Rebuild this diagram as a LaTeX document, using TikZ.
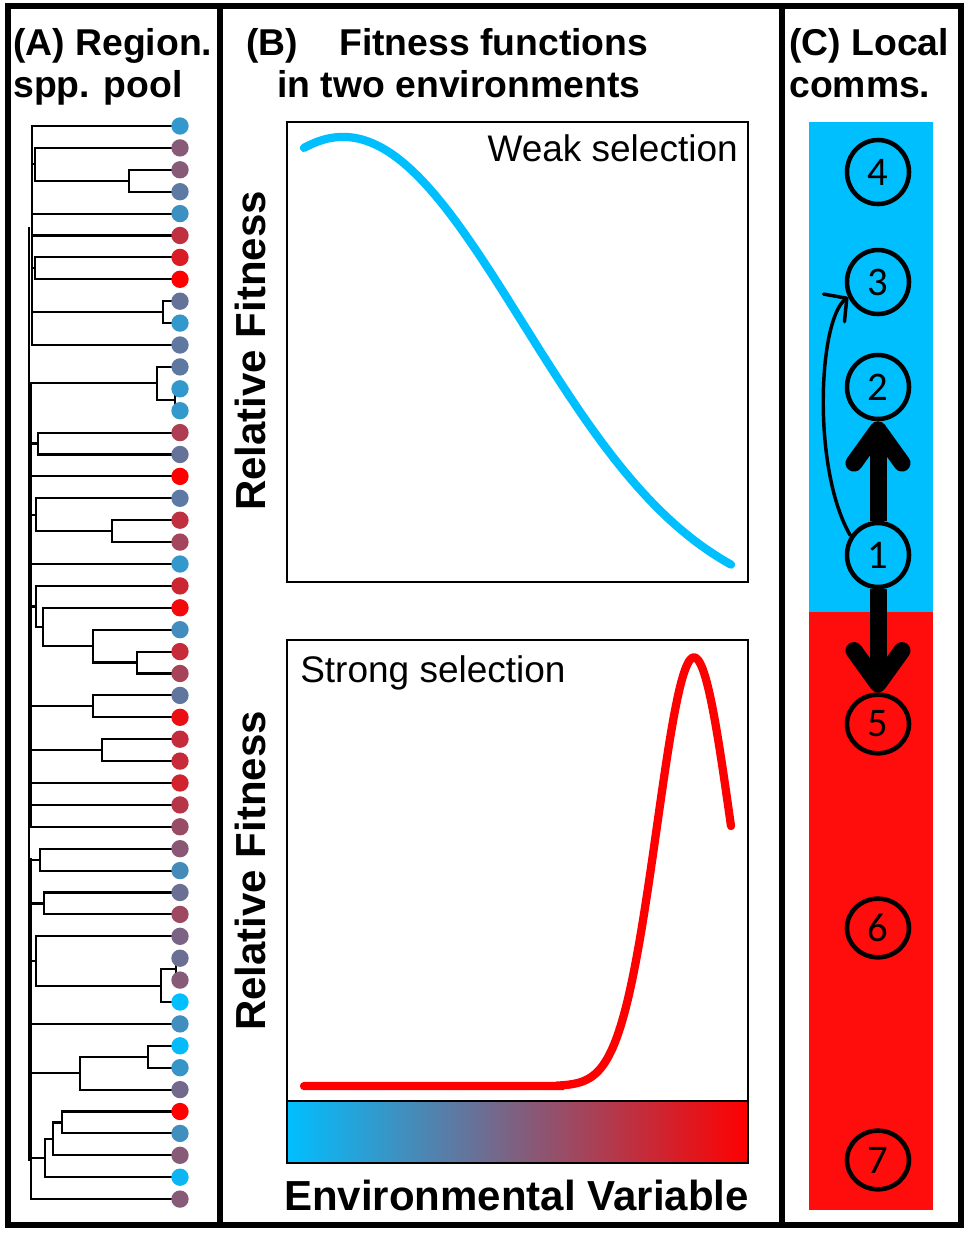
\documentclass[tikz,border=0pt]{standalone}
\usepackage{fontspec}
\setmainfont{Liberation Sans}
\newfontfamily\calibfont{Carlito}
\usetikzlibrary{arrows.meta,calc,shapes.geometric}
\definecolor{skyb}{RGB}{0,191,255}
\definecolor{rd}{RGB}{255,0,0}
\definecolor{panelred}{RGB}{255,13,13}
\newcommand\tipline[2]{\draw[treeline] (#1,{126+21.9*(#2-1)}) -- (180,{126+21.9*(#2-1)});}
\newcommand\vseg[3]{\draw[treeline] (#1,#2) -- (#1,#3);}
\newcommand\hseg[3]{\draw[treeline] (#1,#3) -- (#2,#3);}
\begin{document}
\begin{tikzpicture}[x=0.75pt,y=-0.75pt,
  treeline/.style={line width=1.6pt, line cap=rect},
  tipdot/.style={circle, inner sep=0pt, minimum size=13pt},
  frameline/.style={line width=4pt},
  boxline/.style={line width=1.5pt},
  title/.style={inner sep=0pt, font=\fontsize{28}{33}\selectfont\bfseries},
  axlab/.style={inner sep=0pt, font=\fontsize{31.5}{36}\selectfont\bfseries},
  sellab/.style={inner sep=0pt, font=\fontsize{27.75}{32}\selectfont},
  comm/.style={ellipse, draw, line width=3.4pt, inner sep=0pt, minimum width=46.5pt, minimum height=48pt, font=\calibfont\fontsize{30.5}{35}\selectfont},
  commred/.style={comm, minimum height=44pt},
  thickarr/.style={line width=12.75pt, -{Straight Barb[round, length=25pt, width=36pt]}},
  thinarr/.style={line width=2.6pt, -{Straight Barb[round, length=12pt, width=26pt]}},
  curveline/.style={line width=6.2pt, line cap=round}
]
\useasboundingbox (0,0) rectangle (970,1247);
\fill[white] (0,0) rectangle (970,1247);

% ---------------- Panel A: tree ----------------
% backbone
\vseg{31.7}{126}{345}
\vseg{29}{228}{1160}
\vseg{31}{383}{827}
\vseg{30.7}{859}{1199.1}
% tip branches
\tipline{31.7}{1}\tipline{35}{2}\tipline{129}{3}\tipline{129}{4}\tipline{31.7}{5}
\tipline{31.7}{6}\tipline{35}{7}\tipline{35}{8}\tipline{163}{9}\tipline{163}{10}
\tipline{31.7}{11}\tipline{157}{12}\tipline{175}{13}\tipline{175}{14}\tipline{38}{15}
\tipline{38}{16}\tipline{31}{17}\tipline{36}{18}\tipline{112}{19}\tipline{112}{20}
\tipline{31}{21}\tipline{36}{22}\tipline{43}{23}\tipline{93}{24}\tipline{137}{25}
\tipline{137}{26}\tipline{93}{27}\tipline{93}{28}\tipline{102}{29}\tipline{102}{30}
\tipline{31}{31}\tipline{31}{32}\tipline{31}{33}\tipline{40}{34}\tipline{40}{35}
\tipline{44}{36}\tipline{44}{37}\tipline{36}{38}\tipline{176}{39}\tipline{176}{40}
\tipline{161}{41}\tipline{30.7}{42}\tipline{148}{43}\tipline{148}{44}\tipline{80}{45}
\tipline{62}{46}\tipline{62}{47}\tipline{52.7}{48}\tipline{45}{49}\tipline{30.7}{50}
% internal nodes
\vseg{129}{169.8}{191.7}\hseg{35}{129}{180.75}
\vseg{35}{147.9}{180.75}\hseg{31.7}{35}{164.3}
\vseg{35}{257.4}{279.3}\hseg{31.7}{35}{268.35}
\vseg{163}{301.2}{323.1}\hseg{31.7}{163}{312.15}
\vseg{175}{388.8}{410.7}\hseg{157}{175}{399.75}
\vseg{157}{366.9}{399.75}\hseg{30}{157}{383.3}
\vseg{38}{432.6}{454.5}\hseg{31}{38}{443.55}
\vseg{112}{520.2}{542.1}\hseg{36}{112}{531.15}
\vseg{36}{498.3}{531.15}\hseg{31}{36}{514.7}
\vseg{137}{651.6}{673.5}\hseg{93}{137}{662.55}
\vseg{93}{629.7}{662.55}\hseg{43}{93}{646.1}
\vseg{43}{607.8}{646.1}\hseg{36}{43}{627}
\vseg{36}{585.9}{627}\hseg{31}{36}{606.5}
\vseg{93}{695.4}{717.3}\hseg{31}{93}{706.35}
\vseg{102}{739.2}{761.1}\hseg{31}{102}{750.15}
\vseg{40}{848.7}{870.6}\hseg{30.7}{40}{859.65}
\vseg{44}{892.5}{914.4}\hseg{30.7}{44}{903.45}
\vseg{176}{958.2}{980.1}\hseg{161}{176}{969.15}
\vseg{161}{969.15}{1002}\hseg{36}{161}{985.6}
\vseg{36}{936.3}{985.6}\hseg{30.7}{36}{961}
\vseg{148}{1045.8}{1067.7}\hseg{80}{148}{1056.75}
\vseg{80}{1056.75}{1089.6}\hseg{30.7}{80}{1073.2}
\vseg{62}{1111.5}{1133.4}\hseg{52.7}{62}{1122.45}
\vseg{52.7}{1122.45}{1155.3}\hseg{45}{52.7}{1138.9}
\vseg{45}{1138.9}{1177.2}\hseg{30.7}{45}{1158}
% tip dots
\foreach \t [count=\i] in {20,53,53,36,24,75,85,100,40,20,37,37,20,20,68,40,100,36,75,64,20,80,95,26,78,65,38,92,77,78,82,72,60,54,27,42,62,48,42,53,0,25,2,22,45,100,25,53,5,53}
  \node[tipdot, fill=rd!\t!skyb] (tip\i) at (180,{126+21.9*(\i-1)}) {};

% ---------------- Panel B ----------------
% top plot
\draw[curveline, skyb] plot[domain=304:731, samples=120] (\x, {611-474*exp(-0.5*((\x-343)/180)*((\x-343)/180))});
\draw[boxline] (287,122) rectangle (748,582);
\node[sellab, anchor=base east] (weak) at (738,161) {Weak selection};
\node[axlab, rotate=90] (rf1) at (250,351) {Relative Fitness};
% bottom plot
\shade[left color=skyb, right color=rd] (287,1101) rectangle (748,1163);
\draw[curveline, rd] (304,1086) -- (560,1086) -- plot[domain=560:731, samples=150] (\x, {1086-428.5*exp(-0.5*((\x-694)/37)*((\x-694)/37))});
\draw[boxline] (287,640) rectangle (748,1163);
\draw[boxline] (287,1101) -- (748,1101);
\node[sellab, anchor=base west] (strong) at (300,682) {Strong selection};
\node[axlab, rotate=90] (rf2) at (250,871) {Relative Fitness};
\node[axlab, anchor=base] (ev) at (516.5,1210) {Environmental Variable};

% ---------------- Panel C ----------------
\fill[skyb] (809,122) rectangle (933,612);
\fill[panelred] (809,612) rectangle (933,1210);
\node[comm] (c4) at (878,172) {4};
\node[comm] (c3) at (878,282) {3};
\node[comm] (c2) at (878,387) {2};
\node[comm] (c1) at (878,555) {1};
\node[commred] (c5) at (878,724) {5};
\node[commred] (c6) at (878,928) {6};
\node[commred] (c7) at (878,1160) {7};
\draw[thickarr] (c1) -- (c2);
\draw[thickarr] (c1) -- (c5);
\coordinate (k1) at (812,470);
\coordinate (k2) at (818,320);
\draw[thinarr] (c1.145) .. controls (k1) and (k2) .. (c3.207);

% ---------------- titles ----------------
\node[title, anchor=base west] (tA1) at (13,55) {(A) Region.};
\node[title, anchor=base west] (tA2) at (13,97) {spp. pool};
\node[title, anchor=base west] (tB1) at (246,55) {(B)};
\node[title, anchor=base west] (tB2) at (339,55) {Fitness functions};
\node[title, anchor=base west] (tB3) at (277,97) {in two environments};
\node[title, anchor=base west] (tC1) at (789,55) {(C) Local};
\node[title, anchor=base west] (tC2) at (789,97) {comms.};

% ---------------- frame ----------------
\draw[frameline] (8,6) rectangle (961,1225);
\draw[frameline] (220,6) -- (220,1225);
\draw[frameline] (782,6) -- (782,1225);
\end{tikzpicture}
\end{document}
